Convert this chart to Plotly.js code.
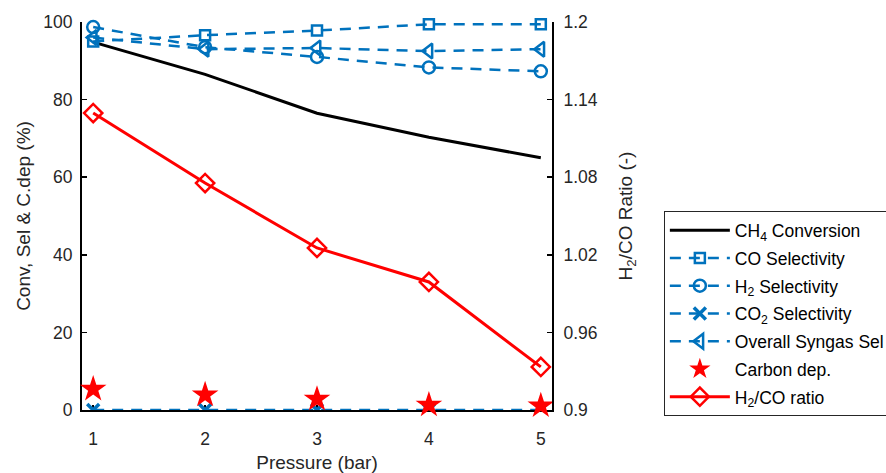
<!DOCTYPE html>
<html>
<head>
<meta charset="utf-8">
<script src="https://cdn.plot.ly/plotly-3.0.1.min.js"></script>
<style>html,body{margin:0;padding:0;background:#fff;}#chart{width:886px;height:473px;}</style>
</head>
<body>
<div id="chart"></div>
<script>
const pressure = [1, 2, 3, 4, 5];
const ch4Conversion = [94.8, 86.5, 76.5, 70.3, 65.0];
const coSelectivity = [95.0, 96.6, 97.8, 99.4, 99.4];
const h2Selectivity = [98.7, 93.5, 91.0, 88.3, 87.3];
const co2Selectivity = [0.0, 0.0, 0.0, 0.0, 0.0];
const syngasSelectivity = [96.0, 93.0, 93.3, 92.5, 93.0];
const carbonDep = [5.4, 3.9, 2.8, 1.3, 1.1];
const h2coRatio = [1.1296, 1.0755, 1.0253, 0.999, 0.9333];
const leftTicks = [0, 20, 40, 60, 80, 100];
const rightTicks = [0.9, 0.96, 1.02, 1.08, 1.14, 1.2];
const rightTickText = ['0.9', '0.96', '1.02', '1.08', '1.14', '1.2'];
const xTicks = [1, 2, 3, 4, 5];

const BLUE = '#0072BD';
const RED = '#FF0000';
const dash = '11px,8px';

const traces = [
  {x: pressure, y: ch4Conversion, name: 'CH<sub>4</sub> Conversion', mode: 'lines',
   line: {color: '#000', width: 3}, legendgroup: 'a'},
  {x: pressure, y: coSelectivity, name: 'CO Selectivity', mode: 'lines+markers',
   line: {color: BLUE, width: 2.5, dash: dash},
   marker: {symbol: 'square-open', size: 10, color: BLUE, line: {width: 2.5, color: BLUE}}, legendgroup: 'b', cliponaxis: false},
  {x: pressure, y: h2Selectivity, name: 'H<sub>2</sub> Selectivity', mode: 'lines+markers',
   line: {color: BLUE, width: 2.5, dash: dash},
   marker: {symbol: 'circle-open', size: 12, color: BLUE, line: {width: 2.5, color: BLUE}}, legendgroup: 'c', cliponaxis: false},
  {x: pressure, y: co2Selectivity, name: 'CO<sub>2</sub> Selectivity', mode: 'lines+markers',
   line: {color: BLUE, width: 2.5, dash: dash},
   marker: {symbol: 'x-thin-open', size: 12, color: BLUE, line: {width: 3.5, color: BLUE}}, legendgroup: 'd', cliponaxis: true},
  {x: pressure, y: syngasSelectivity, name: 'Overall Syngas Sel', mode: 'lines+markers',
   line: {color: BLUE, width: 2.5, dash: dash},
   marker: {symbol: 'triangle-left-open', size: 13, color: BLUE, line: {width: 2.5, color: BLUE}}, legendgroup: 'e', cliponaxis: false},
  {x: pressure, y: carbonDep, name: 'Carbon dep.', mode: 'markers',
   marker: {symbol: 'star', size: 20, color: RED, line: {width: 0}}, legendgroup: 'f', cliponaxis: false},
  {x: pressure, y: h2coRatio, name: 'H<sub>2</sub>/CO ratio', mode: 'lines+markers', yaxis: 'y2',
   line: {color: RED, width: 3},
   marker: {symbol: 'diamond-open', size: 14, color: RED, line: {width: 2.5, color: RED}}, legendgroup: 'g', cliponaxis: false}
];

const FAM = 'Liberation Sans, Arial, sans-serif';
const tickFont = {family: FAM, size: 17.5, color: '#262626'};
const titleFont = {family: FAM, size: 19, color: '#262626'};

const layout = {
  width: 886, height: 473,
  margin: {l: 82, r: 334, t: 22, b: 63, autoexpand: false},
  paper_bgcolor: '#fff', plot_bgcolor: '#fff',
  showlegend: true,
  xaxis: {
    range: [0.9, 5.1], tickvals: xTicks, ticks: 'inside', ticklen: 5, tickwidth: 1.5, tickcolor: '#000',
    showgrid: false, zeroline: false, showline: true, linecolor: '#000', linewidth: 2, layer: 'below traces',
    tickfont: tickFont, ticklabelstandoff: 12, title: {text: 'Pressure (bar)', font: titleFont, standoff: 8}
  },
  yaxis: {
    range: [0, 100], tickvals: leftTicks, ticks: 'inside', ticklen: 5, tickwidth: 1.5, tickcolor: '#000',
    showgrid: false, zeroline: false, showline: true, linecolor: '#000', linewidth: 2, layer: 'below traces',
    tickfont: tickFont, ticklabelstandoff: 4, title: {text: 'Conv, Sel & C.dep (%)', font: titleFont, standoff: 8}
  },
  yaxis2: {
    overlaying: 'y', side: 'right', range: [0.9, 1.2], tickvals: rightTicks, ticktext: rightTickText,
    ticks: 'inside', ticklen: 5, tickwidth: 1.5, tickcolor: '#000',
    showgrid: false, zeroline: false, showline: true, linecolor: '#000', linewidth: 2,
    tickfont: tickFont, ticklabelstandoff: 6, title: {text: 'H<sub>2</sub>/CO Ratio (-)', font: titleFont, standoff: 22}
  },
  legend: {
    x: 1.238, y: 0.512, xanchor: 'left', yanchor: 'top',
    bgcolor: '#fff', bordercolor: '#262626', borderwidth: 1,
    font: {family: FAM, size: 17.5, color: '#000'},
    itemwidth: 60, tracegroupgap: 2, traceorder: 'grouped'
  }
};

Plotly.newPlot('chart', traces, layout, {displayModeBar: false, staticPlot: true});
</script>
</body>
</html>
